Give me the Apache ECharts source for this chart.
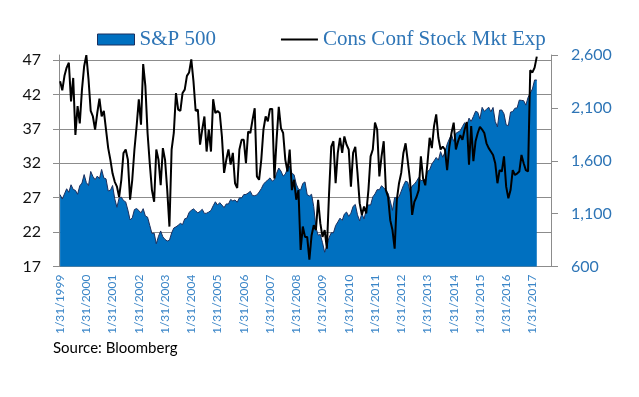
<!DOCTYPE html>
<html>
<head>
<meta charset="utf-8">
<script src="https://cdn.jsdelivr.net/npm/echarts@6/dist/echarts.min.js"></script>
<style>
  html, body { margin: 0; padding: 0; background: #fff; }
  #chart { width: 639px; height: 397px; }
</style>
</head>
<body>
<div id="chart"></div>
<script>
// year tick labels (shown every January)
var yearLabels = ["1/31/1999", "1/31/2000", "1/31/2001", "1/31/2002", "1/31/2003", "1/31/2004",
  "1/31/2005", "1/31/2006", "1/31/2007", "1/31/2008", "1/31/2009", "1/31/2010", "1/31/2011",
  "1/31/2012", "1/31/2013", "1/31/2014", "1/31/2015", "1/31/2016", "1/31/2017"];

// S&P 500, month end, Jan 1999 - Mar 2017
var spx = [
  1280, 1238, 1286, 1335, 1302, 1373, 1329, 1320, 1283, 1363, 1389, 1469,
  1394, 1366, 1499, 1452, 1421, 1455, 1431, 1518, 1437, 1429, 1315, 1320,
  1366, 1240, 1160, 1249, 1256, 1224, 1211, 1134, 1041, 1060, 1139, 1148,
  1130, 1107, 1147, 1077, 1067, 990, 912, 916, 815, 886, 936, 880,
  856, 841, 848, 917, 964, 975, 990, 1008, 996, 1051, 1058, 1112,
  1131, 1145, 1126, 1107, 1121, 1141, 1102, 1104, 1115, 1130, 1174, 1212,
  1181, 1204, 1181, 1157, 1192, 1191, 1234, 1220, 1229, 1207, 1249, 1248,
  1280, 1281, 1295, 1311, 1270, 1270, 1277, 1304, 1336, 1378, 1401, 1418,
  1438, 1407, 1421, 1482, 1531, 1503, 1455, 1474, 1527, 1549, 1481, 1468,
  1379, 1331, 1323, 1386, 1400, 1280, 1267, 1283, 1166, 969, 896, 903,
  826, 735, 798, 873, 919, 919, 987, 1021, 1057, 1036, 1096, 1115,
  1074, 1104, 1169, 1187, 1089, 1031, 1102, 1049, 1141, 1183, 1181, 1258,
  1286, 1327, 1326, 1364, 1345, 1321, 1292, 1219, 1131, 1253, 1247, 1258,
  1312, 1366, 1408, 1398, 1310, 1362, 1379, 1407, 1441, 1412, 1416, 1426,
  1498, 1515, 1569, 1598, 1631, 1606, 1686, 1633, 1682, 1757, 1806, 1848,
  1783, 1859, 1872, 1884, 1924, 1960, 1931, 2003, 1972, 2018, 2068, 2059,
  1995, 2105, 2068, 2086, 2107, 2063, 2104, 1972, 1920, 2079, 2080, 2044,
  1940, 1932, 2060, 2065, 2097, 2099, 2174, 2171, 2168, 2126, 2199, 2239,
  2279, 2364, 2363
];

// Consumer confidence, stock market expectations
var consConf = [
  43.9, 42.6, 44.7, 45.9, 46.6, 41.0, 44.4, 36.1, 40.3, 37.8, 42.7, 46.1,
  47.7, 44.2, 39.6, 38.8, 36.9, 39.3, 41.4, 38.8, 39.6, 36.9, 34.2, 32.5,
  30.5, 29.3, 28.6, 27.1, 29.6, 33.5, 34.0, 32.5, 26.7, 29.6, 34.0, 37.4,
  41.3, 37.6, 46.4, 43.2, 36.4, 32.0, 28.1, 26.4, 34.0, 32.5, 28.8, 34.2,
  32.5, 28.1, 22.8, 34.0, 36.4, 42.2, 39.8, 39.6, 42.2, 42.7, 44.7, 45.2,
  47.1, 43.9, 39.6, 39.8, 34.7, 36.9, 38.8, 33.7, 36.9, 33.7, 41.3, 39.3,
  39.6, 39.3, 35.9, 30.6, 32.5, 34.0, 31.8, 33.5, 29.1, 28.4, 34.0, 35.4,
  35.4, 32.0, 36.6, 36.4, 38.3, 40.0, 30.1, 29.6, 32.5, 36.9, 38.8, 38.1,
  39.9, 39.9, 29.8, 35.4, 40.2, 37.1, 36.4, 32.5, 30.8, 34.0, 28.1, 29.6,
  26.7, 28.1, 19.4, 22.8, 21.3, 21.3, 18.0, 21.5, 23.0, 22.3, 26.7, 23.3,
  21.3, 22.3, 19.6, 27.6, 34.4, 35.2, 29.1, 33.5, 35.7, 33.5, 35.9, 34.7,
  34.0, 28.6, 33.5, 34.4, 30.6, 26.2, 24.5, 25.7, 24.7, 28.1, 33.0, 34.0,
  37.9, 36.9, 30.1, 33.0, 35.2, 28.1, 27.1, 23.7, 22.3, 19.6, 26.7, 29.1,
  30.6, 33.5, 34.9, 32.3, 29.6, 24.5, 26.4, 27.1, 28.1, 33.0, 29.8, 28.8,
  32.0, 35.7, 34.2, 37.4, 39.1, 35.7, 34.0, 34.4, 34.0, 31.0, 34.4, 36.4,
  37.9, 34.0, 35.2, 36.1, 35.4, 36.9, 38.0, 31.8, 37.4, 32.3, 35.2, 36.4,
  37.3, 36.9, 36.4, 34.9, 34.2, 33.7, 33.2, 32.0, 29.1, 31.0, 30.8, 33.0,
  28.6, 26.9, 28.1, 31.0, 30.3, 30.5, 30.8, 33.2, 32.0, 31.0, 30.8, 45.5,
  45.2, 45.9, 47.5
];

// month-end categories, axis runs a few empty months past the data (as in the excel chart)
var monthEnds = [31, 28, 31, 30, 31, 30, 31, 31, 30, 31, 30, 31];
var categories = [];
for (var y = 1999; y <= 2017; y++) {
  for (var m = 0; m < 12; m++) {
    if (y === 2017 && m > 8) break;
    var d = monthEnds[m];
    if (m === 1 && y % 4 === 0) d = 29;
    categories.push((m + 1) + "/" + d + "/" + y);
  }
}

var blue = "#2e75b6";
var gridColor = "#8c8c8c";

var chart = echarts.init(document.getElementById("chart"));
var option = {
  animation: false,
  grid: { left: 59, right: 88, top: 55, bottom: 130.5 },
  legend: {
    left: 92,
    top: 24,
    itemWidth: 37,
    itemHeight: 11,
    itemGap: 64,
    textStyle: { fontFamily: "Liberation Serif", fontSize: 21, color: blue },
    data: [
      { name: "S&P 500", icon: "rect", itemStyle: { color: "#0070c0", borderColor: "#1b2f5e", borderWidth: 1 } },
      // plain line, no marker
      { name: "Cons Conf Stock Mkt Exp", itemStyle: { opacity: 0 } }
    ]
  },
  xAxis: {
    type: "category",
    data: categories,
    boundaryGap: true,
    axisLine: { lineStyle: { color: gridColor } },
    axisTick: { show: false },
    axisLabel: {
      interval: function (index) { return index % 12 === 0; },
      formatter: function (value) { return yearLabels.indexOf(value) >= 0 ? value : ""; },
      rotate: 90,
      margin: 8,
      fontFamily: "Lato",
      fontSize: 12,
      color: "#3b86c8"
    }
  },
  yAxis: [
    {
      // left: cons conf
      type: "value",
      min: 17,
      max: 47.73,
      interval: 5,
      position: "left",
      axisLine: { show: true, lineStyle: { color: gridColor } },
      axisTick: { show: true, inside: false, length: 6, lineStyle: { color: gridColor } },
      axisLabel: { showMaxLabel: false, margin: 18, fontFamily: "Lato", fontSize: 16, color: "#111" },
      splitLine: { show: true, showMaxLine: false, lineStyle: { color: gridColor, width: 1 } }
    },
    {
      // right: S&P 500
      type: "value",
      min: 600,
      max: 2600,
      interval: 500,
      position: "right",
      axisLine: { show: true, lineStyle: { color: gridColor } },
      axisTick: { show: true, inside: false, length: 7, lineStyle: { color: gridColor } },
      axisLabel: { margin: 20, fontFamily: "Lato", fontSize: 16, color: blue },
      splitLine: { show: false }
    }
  ],
  series: [
    {
      name: "S&P 500",
      type: "line",
      yAxisIndex: 1,
      data: spx,
      symbol: "none",
      itemStyle: { color: "#0070c0" },
      lineStyle: { color: "#1b2f5e", width: 1 },
      areaStyle: { color: "#0070c0", opacity: 1 },
      z: 2
    },
    {
      name: "Cons Conf Stock Mkt Exp",
      type: "line",
      yAxisIndex: 0,
      data: consConf,
      symbol: "none",
      itemStyle: { color: "#000" },
      lineStyle: { color: "#000", width: 2 },
      z: 3
    }
  ],
  graphic: [
    {
      type: "text",
      left: 53,
      top: 341,
      style: { text: "Source: Bloomberg", fontFamily: "Lato", fontSize: 15, fill: "#000" }
    }
  ]
};
chart.setOption(option);
</script>
</body>
</html>
